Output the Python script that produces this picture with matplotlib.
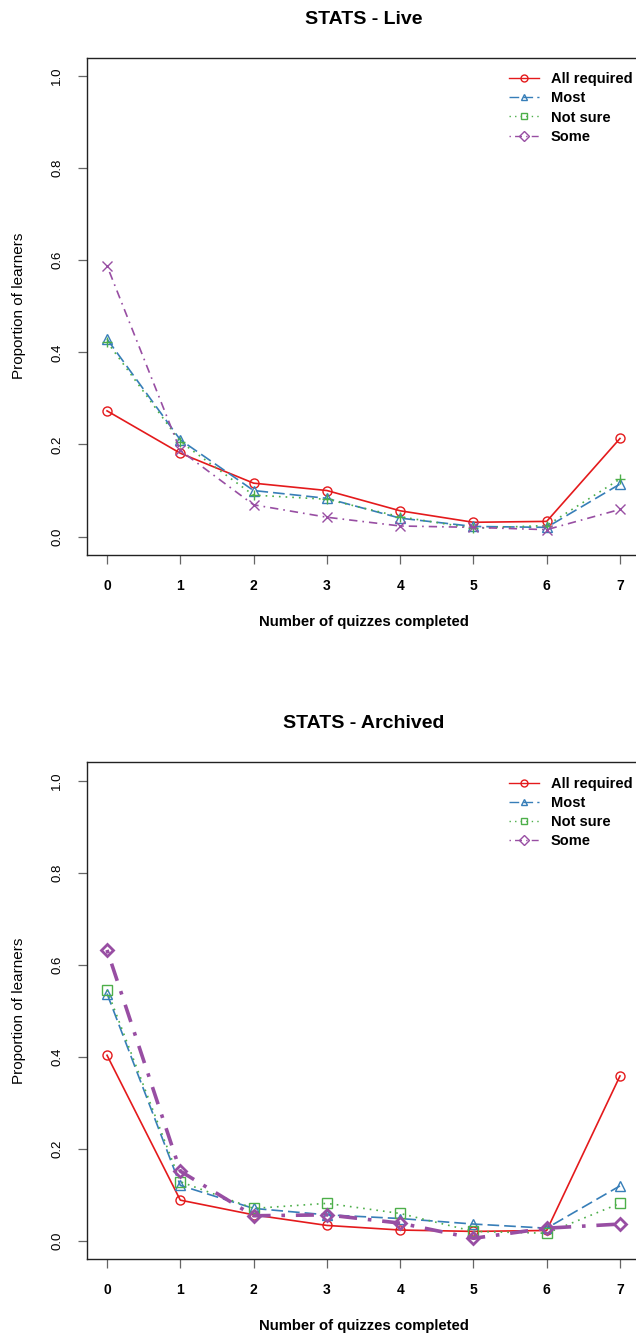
import matplotlib
matplotlib.use("Agg")
import matplotlib.pyplot as plt
from matplotlib.lines import Line2D

plt.rcParams['font.family'] = ['Liberation Sans', 'DejaVu Sans']

# datos
quizzes = [0, 1, 2, 3, 4, 5, 6, 7]
grupos = ['All required', 'Most', 'Not sure', 'Some']

live_all = [0.273, 0.181, 0.116, 0.100, 0.056, 0.031, 0.033, 0.213]
live_most = [0.429, 0.210, 0.100, 0.083, 0.040, 0.022, 0.020, 0.114]
live_notsure = [0.423, 0.206, 0.090, 0.081, 0.043, 0.018, 0.024, 0.125]
live_some = [0.588, 0.187, 0.069, 0.042, 0.023, 0.020, 0.015, 0.059]

arch_all = [0.403, 0.088, 0.056, 0.033, 0.023, 0.020, 0.022, 0.358]
arch_most = [0.537, 0.120, 0.070, 0.056, 0.048, 0.036, 0.027, 0.119]
arch_notsure = [0.545, 0.128, 0.070, 0.081, 0.059, 0.020, 0.016, 0.081]
arch_some = [0.632, 0.151, 0.054, 0.056, 0.038, 0.005, 0.027, 0.036]

colores = ['#E41A1C', '#377EB8', '#4DAF4A', '#984EA3']
estilos = ['-', (0, (7, 3)), (0, (1, 3)), (0, (1, 3, 5, 3))]
marcas_leyenda = ['o', '^', 's', 'D']

W, H = 636, 1335
fig = plt.figure(figsize=(W / 100, H / 100), dpi=100)


def px(x, y):
    return x / W, 1 - y / H


def panel(top, bottom, titulo, series, marcas, anchos, grosor_marca):
    l, b = px(86.5, bottom)
    _, t = px(0, top)
    ax = fig.add_axes([l, b, (640.5 - 86.5) / W, t - b])
    for serie, c, ls, m, lw, mw in zip(series, colores, estilos, marcas, anchos, grosor_marca):
        ax.plot(quizzes, serie, color=c, linestyle=ls, marker=m, lw=lw,
                markersize=6.5, markerfacecolor='none', markeredgewidth=mw)
    ax.set_xlim(-0.28, 7.28)
    ax.set_ylim(-0.04, 1.04)
    ax.set_xticks(quizzes)
    ax.set_yticks([0.0, 0.2, 0.4, 0.6, 0.8, 1.0])
    ax.set_xticklabels([str(q) for q in quizzes], fontsize=10, fontweight='bold')
    ax.set_yticklabels(['0.0', '0.2', '0.4', '0.6', '0.8', '1.0'], fontsize=9.5)
    for lab in ax.get_yticklabels():
        lab.set_rotation(90)
        lab.set_va('center')
        lab.set_ha('right')
    ax.tick_params(length=6.7, width=0.9, color='#666666', pad=10)
    ax.tick_params(axis='x', pad=10.5)
    for s in ax.spines.values():
        s.set_linewidth(1.0)
        s.set_color('#222222')

    handles = [Line2D([], [], color=c, linestyle=ls, marker=m, lw=1.0,
                      markersize=5, markerfacecolor='none', markeredgewidth=1.0)
               for c, ls, m in zip(colores, estilos, marcas_leyenda)]
    ax.legend(handles, grupos, loc='upper left', bbox_to_anchor=(0.7627, 0.971),
              frameon=False, borderpad=0, borderaxespad=0, handlelength=2.05,
              handletextpad=0.8, labelspacing=0.36,
              prop={'size': 10.5, 'weight': 'bold'})

    xt, yt = px(363.5, top - 38.5)
    fig.text(xt, yt, titulo, ha='center', va='center', fontsize=14, fontweight='bold')
    xl, yl = px(363.5, bottom + 67)
    fig.text(xl, yl, 'Number of quizzes completed', ha='center', va='center',
             fontsize=10.75, fontweight='bold')
    xy, yy = px(19, (top + bottom) / 2)
    fig.text(xy, yy, 'Proportion of learners', ha='center', va='center',
             rotation=90, fontsize=11)
    return ax


panel(57.6, 555, 'STATS - Live',
      [live_all, live_most, live_notsure, live_some],
      ['o', '^', '+', 'x'], [1.2, 1.2, 1.2, 1.2], [1.0, 1.0, 1.0, 1.0])
panel(762.3, 1259, 'STATS - Archived',
      [arch_all, arch_most, arch_notsure, arch_some],
      ['o', '^', 's', 'D'], [1.2, 1.2, 1.2, 2.6], [1.0, 1.0, 1.0, 2.0])

fig.savefig('out.png', dpi=100)
